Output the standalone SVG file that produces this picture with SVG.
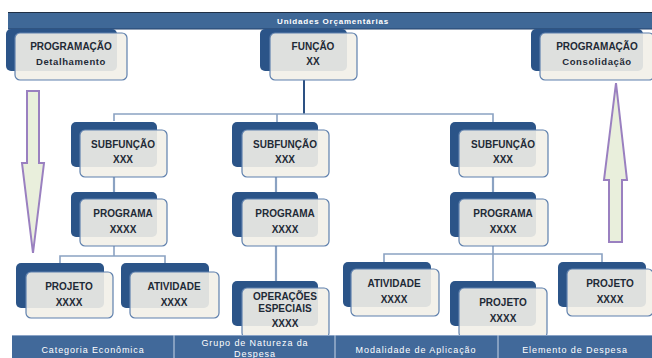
<svg xmlns="http://www.w3.org/2000/svg" width="652" height="358" viewBox="0 0 652 358">
<style>
.back{fill:#2b5488;}
.front{fill:#f2f0e8;fill-opacity:0.9;stroke:#5f80ad;stroke-width:1.2;}
.t{font-family:"Liberation Sans",Arial,sans-serif;font-weight:bold;font-size:10px;fill:#1e2a36;text-anchor:middle;}
.ts{font-family:"Liberation Sans",Arial,sans-serif;font-weight:bold;font-size:9.5px;fill:#1e2a36;text-anchor:middle;letter-spacing:0.6px;}
.bar{font-family:"Liberation Sans",Arial,sans-serif;font-size:9px;fill:#ffffff;text-anchor:middle;letter-spacing:0.9px;}
.c{fill:none;stroke:#8ba2c2;stroke-width:1.6;}
.arrow{fill:#e9efdc;stroke:#9a80c0;stroke-width:2;}
</style>
<rect x="0" y="0" width="652" height="358" fill="#ffffff"/>
<g id="top-bar">
<rect x="8" y="12" width="644" height="17" fill="#3f6897"/>
<line x1="8" y1="12.5" x2="652" y2="12.5" stroke="#1f2f45" stroke-width="1"/>
<line x1="8" y1="29" x2="652" y2="29" stroke="#22406a" stroke-width="1"/>
<text x="333" y="24" class="bar" style="font-weight:bold;font-size:8px;letter-spacing:0.8px">Unidades Orçamentárias</text>
</g>
<g id="connectors">
<path d="M304 80 V114" fill="none" stroke="#2d5183" stroke-width="2"/>
<path class="c" d="M114 121 V114 H493 V122 M277 114 V122"/>
<path class="c" d="M114 177 V199 M276 177 V199 M493 177 V199" style="stroke-width:2.2"/>
<path class="c" d="M114 246 V256 M60 263 V256 H165 V263"/>
<path class="c" d="M276 246 V288" style="stroke-width:2.2"/>
<path class="c" d="M493 246 V288 M384 262 V254 H602 V262"/>
</g>
<g id="arrow-down">
<polygon class="arrow" points="27,91 39,91 39,163 44,163 33,253 22,163 27,163"/>
</g>
<g id="arrow-up">
<polygon class="arrow" points="616,83 627,180 622,180 622,242 609,242 609,180 604,180"/>
</g>
<g id="programacao-detalhamento">
<rect class="back" x="6" y="29" width="111" height="42" rx="5"/>
<rect class="front" x="15" y="33" width="112" height="47" rx="5"/>
<text class="t" x="71" y="50">PROGRAMAÇÃO</text>
<text class="ts" x="71" y="65" style="font-weight:bold">Detalhamento</text>
</g>
<g id="funcao">
<rect class="back" x="260" y="29" width="87" height="42" rx="5"/>
<rect class="front" x="270" y="33" width="87" height="47" rx="5"/>
<text class="t" x="313" y="50">FUNÇÃO</text>
<text class="t" x="313" y="65">XX</text>
</g>
<g id="programacao-consolidacao">
<rect class="back" x="531" y="29" width="112" height="42" rx="5"/>
<rect class="front" x="540" y="33" width="114" height="47" rx="5"/>
<text class="t" x="597" y="50">PROGRAMAÇÃO</text>
<text class="ts" x="597" y="65">Consolidação</text>
</g>
<g id="subfuncao-1">
<rect class="back" x="71" y="122" width="86" height="45" rx="5"/>
<rect class="front" x="80" y="130" width="87" height="47" rx="5"/>
<text class="t" x="123" y="148">SUBFUNÇÃO</text>
<text class="t" x="123" y="163">XXX</text>
</g>
<g id="subfuncao-2">
<rect class="back" x="232" y="122" width="86" height="45" rx="5"/>
<rect class="front" x="242" y="130" width="87" height="47" rx="5"/>
<text class="t" x="285" y="148">SUBFUNÇÃO</text>
<text class="t" x="285" y="163">XXX</text>
</g>
<g id="subfuncao-3">
<rect class="back" x="450" y="122" width="86" height="45" rx="5"/>
<rect class="front" x="459" y="130" width="89" height="47" rx="5"/>
<text class="t" x="503" y="148">SUBFUNÇÃO</text>
<text class="t" x="503" y="163">XXX</text>
</g>
<g id="programa-1">
<rect class="back" x="71" y="192" width="86" height="45" rx="5"/>
<rect class="front" x="80" y="199" width="87" height="47" rx="5"/>
<text class="t" x="123" y="217">PROGRAMA</text>
<text class="t" x="123" y="233">XXXX</text>
</g>
<g id="programa-2">
<rect class="back" x="232" y="192" width="86" height="45" rx="5"/>
<rect class="front" x="242" y="199" width="87" height="47" rx="5"/>
<text class="t" x="285" y="217">PROGRAMA</text>
<text class="t" x="285" y="233">XXXX</text>
</g>
<g id="programa-3">
<rect class="back" x="450" y="192" width="86" height="45" rx="5"/>
<rect class="front" x="459" y="199" width="89" height="47" rx="5"/>
<text class="t" x="503" y="217">PROGRAMA</text>
<text class="t" x="503" y="233">XXXX</text>
</g>
<g id="projeto-1">
<rect class="back" x="16" y="263" width="88" height="45" rx="5"/>
<rect class="front" x="26" y="272" width="87" height="46" rx="5"/>
<text class="t" x="69" y="290">PROJETO</text>
<text class="t" x="69" y="306">XXXX</text>
</g>
<g id="atividade-1">
<rect class="back" x="121" y="263" width="88" height="45" rx="5"/>
<rect class="front" x="130" y="272" width="89" height="46" rx="5"/>
<text class="t" x="174" y="290">ATIVIDADE</text>
<text class="t" x="174" y="306">XXXX</text>
</g>
<g id="operacoes-especiais">
<rect class="back" x="232" y="281" width="86" height="45" rx="5"/>
<rect class="front" x="242" y="288" width="87" height="50" rx="5"/>
<text class="t" x="285" y="300">OPERAÇÕES</text>
<text class="t" x="285" y="312">ESPECIAIS</text>
<text class="t" x="285" y="327">XXXX</text>
</g>
<g id="atividade-2">
<rect class="back" x="343" y="262" width="88" height="45" rx="5"/>
<rect class="front" x="351" y="269" width="88" height="47" rx="5"/>
<text class="t" x="394" y="287">ATIVIDADE</text>
<text class="t" x="394" y="303">XXXX</text>
</g>
<g id="projeto-2">
<rect class="back" x="450" y="281" width="86" height="45" rx="5"/>
<rect class="front" x="459" y="288" width="88" height="50" rx="5"/>
<text class="t" x="503" y="306">PROJETO</text>
<text class="t" x="503" y="322">XXXX</text>
</g>
<g id="projeto-3">
<rect class="back" x="558" y="262" width="88" height="45" rx="5"/>
<rect class="front" x="567" y="269" width="86" height="47" rx="5"/>
<text class="t" x="610" y="287">PROJETO</text>
<text class="t" x="610" y="303">XXXX</text>
</g>
<g id="bottom-bar">
<rect x="12" y="335" width="640" height="23" fill="#41699a"/>
<line x1="12" y1="335.5" x2="652" y2="335.5" stroke="#8aa3c6" stroke-width="1"/>
<line x1="174" y1="335" x2="174" y2="358" stroke="#c9d6e6" stroke-width="1"/>
<line x1="335" y1="335" x2="335" y2="358" stroke="#c9d6e6" stroke-width="1"/>
<line x1="498" y1="335" x2="498" y2="358" stroke="#c9d6e6" stroke-width="1"/>
<text class="bar" x="93" y="353">Categoria Econômica</text>
<text class="bar" x="255" y="346">Grupo de Natureza da</text>
<text class="bar" x="255" y="357">Despesa</text>
<text class="bar" x="416" y="353">Modalidade de Aplicação</text>
<text class="bar" x="575" y="353">Elemento de Despesa</text>
</g>
</svg>
